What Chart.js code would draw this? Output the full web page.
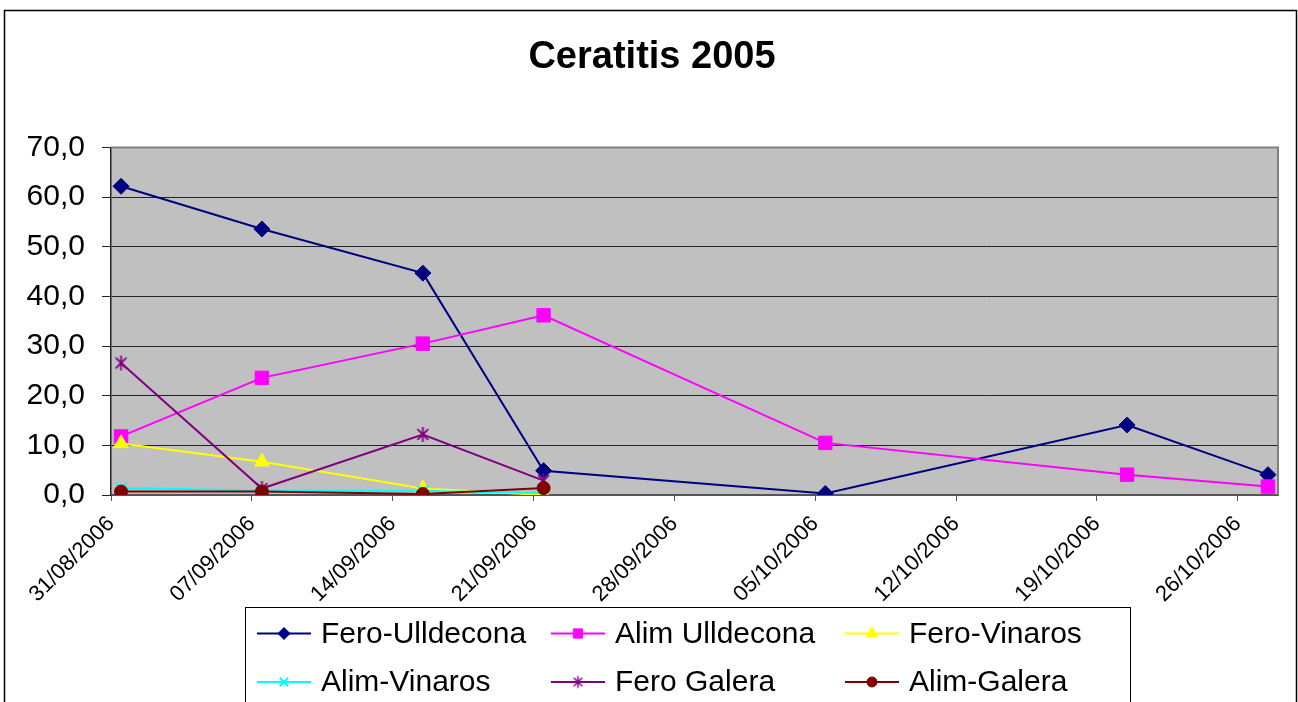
<!DOCTYPE html>
<html>
<head>
<meta charset="utf-8">
<script src="https://cdn.jsdelivr.net/npm/chart.js@4.4.1/dist/chart.umd.min.js"></script>
<style>
  html, body { margin: 0; padding: 0; background: #fff; }
  #wrap { width: 1298px; height: 702px; }
</style>
</head>
<body>
<div id="wrap"><canvas id="myChart" width="1298" height="702"></canvas></div>
<script>
// dates of the counts, and the dates shown on the axis
const startDate = '31/08/2006';
const sampleDates = ['31/08/2006', '07/09/2006', '15/09/2006', '21/09/2006', '05/10/2006', '20/10/2006', '27/10/2006'];
const tickLabels = ['31/08/2006', '07/09/2006', '14/09/2006', '21/09/2006', '28/09/2006', '05/10/2006', '12/10/2006', '19/10/2006', '26/10/2006'];
const axisDays = 58;

const seriesNames = ['Fero-Ulldecona', 'Alim Ulldecona', 'Fero-Vinaros', 'Alim-Vinaros', 'Fero Galera', 'Alim-Galera'];
const feroUlldecona = [62.2, 53.6, 44.7, 4.9, 0.3, 14.1, 4.1];
const alimUlldecona = [11.8, 23.6, 30.5, 36.2, 10.5, 4.1, 1.7];
const feroVinaros = [10.4, 6.7, 1.3, 0.0, null, null, null];
const alimVinaros = [1.4, 0.9, 0.8, 0.4, null, null, null];
const feroGalera = [26.6, 1.3, 12.2, 2.9, null, null, null];
const alimGalera = [0.7, 0.7, 0.2, 1.4, null, null, null];

const FONT = "'Liberation Sans', Arial, sans-serif";

function dayIndex(s) {
  const p = s.split('/');
  const s0 = startDate.split('/');
  return (Date.UTC(+p[2], +p[1] - 1, +p[0]) - Date.UTC(+s0[2], +s0[1] - 1, +s0[0])) / 86400000;
}

function points(values) {
  const out = [];
  values.forEach((v, i) => {
    if (v !== null) out.push({ x: dayIndex(sampleDates[i]) + 0.5, y: v });
  });
  return out;
}

// excel style asterisk marker
function asterisk(r, color, lw) {
  const c = document.createElement('canvas');
  const s = Math.ceil(2 * r + lw * 2);
  c.width = c.height = s;
  const g = c.getContext('2d');
  const m = s / 2, d = r * 0.72;
  g.strokeStyle = color;
  g.lineWidth = lw;
  g.beginPath();
  g.moveTo(m, m - r); g.lineTo(m, m + r);
  g.moveTo(m - d, m - d); g.lineTo(m + d, m + d);
  g.moveTo(m - d, m + d); g.lineTo(m + d, m - d);
  g.stroke();
  return c;
}

const styles = [
  { color: '#000080', point: 'rectRot', r: 8, lr: 6 },
  { color: '#FF00FF', point: 'rect', r: 9.5, lr: 6.5 },
  { color: '#FFFF00', point: 'triangle', r: 8.5, lr: 6.5 },
  { color: '#00FFFF', point: 'crossRot', r: 7.5, lr: 6 },
  { color: '#800080', point: asterisk(7.5, '#800080', 1.8), r: 8, lr: 6, legendPoint: asterisk(6, '#800080', 1.5) },
  { color: '#800000', point: 'circle', r: 6.5, lr: 5 }
];

const allValues = [feroUlldecona, alimUlldecona, feroVinaros, alimVinaros, feroGalera, alimGalera];

const datasets = allValues.map((vals, i) => ({
  label: seriesNames[i],
  data: points(vals),
  borderColor: styles[i].color,
  backgroundColor: styles[i].color,
  borderWidth: 2,
  pointStyle: styles[i].point,
  pointRadius: styles[i].r,
  pointHoverRadius: styles[i].r,
  pointBorderWidth: (i === 3) ? 2 : 1,
  pointBackgroundColor: styles[i].color,
  pointBorderColor: styles[i].color,
  tension: 0,
  order: allValues.length - i
}));

const frame = {
  id: 'frame',
  beforeDraw(chart) {
    const c = chart.ctx, a = chart.chartArea;
    c.save();
    c.fillStyle = '#fff';
    c.fillRect(0, 0, chart.width, chart.height);
    c.strokeStyle = '#000';
    c.lineWidth = 1.5;
    c.strokeRect(4.5, 10.5, 1292, 760);
    c.fillStyle = '#C0C0C0';
    c.fillRect(a.left, a.top, a.right - a.left, a.bottom - a.top);
    c.restore();
  },
  beforeDatasetsDraw(chart) {
    const c = chart.ctx, a = chart.chartArea;
    c.save();
    c.strokeStyle = '#808080';
    c.lineWidth = 2;
    c.beginPath();
    c.moveTo(a.left, a.top);
    c.lineTo(a.right, a.top);
    c.lineTo(a.right, a.bottom);
    c.stroke();
    c.restore();
  },
  afterDraw(chart) {
    // legend box, three columns
    const c = chart.ctx;
    c.save();
    c.fillStyle = '#fff';
    c.fillRect(245.5, 607.5, 885, 200);
    c.strokeStyle = '#000';
    c.lineWidth = 1;
    c.strokeRect(245.5, 607.5, 885, 200);
    chart.data.datasets.forEach((ds, i) => {
      const tx = 321 + (i % 3) * 294;
      const y = 633.5 + Math.floor(i / 3) * 48.5;
      c.strokeStyle = ds.borderColor;
      c.fillStyle = ds.borderColor;
      c.lineWidth = 2;
      c.beginPath();
      c.moveTo(tx - 64, y);
      c.lineTo(tx - 10, y);
      c.stroke();
      c.lineWidth = i === 3 ? 2 : 1;
      Chart.helpers.drawPoint(c, {
        pointStyle: styles[i].legendPoint || styles[i].point,
        radius: styles[i].lr,
        rotation: 0,
        borderWidth: i === 3 ? 2 : 1
      }, tx - 37, y);
      c.fillStyle = '#000';
      c.font = '30px ' + FONT;
      c.textBaseline = 'middle';
      c.textAlign = 'left';
      c.fillText(ds.label, tx, y + 1);
    });
    c.restore();
  }
};

const ctx = document.getElementById('myChart');

new Chart(ctx, {
  type: 'line',
  data: { datasets: datasets },
  options: {
    responsive: false,
    animation: false,
    events: [],
    layout: { padding: { left: 26, right: 20 } },
    plugins: {
      legend: { display: false },
      tooltip: { enabled: false },
      title: {
        display: true,
        text: 'Ceratitis 2005',
        color: '#000',
        font: { family: FONT, size: 38, weight: 'bold' },
        padding: { top: 35, bottom: 67 }
      }
    },
    scales: {
      x: {
        type: 'linear',
        min: 0,
        max: axisDays,
        afterFit(scale) { scale.height = 207; },
        grid: { drawOnChartArea: false, drawTicks: true, tickLength: 6, color: '#555', lineWidth: 1 },
        border: { display: true, color: '#555', width: 2 },
        ticks: {
          stepSize: 7,
          includeBounds: false,
          autoSkip: false,
          maxRotation: 45,
          minRotation: 45,
          padding: 10,
          color: '#000',
          font: { family: FONT, size: 22 },
          callback: (v) => tickLabels[Math.round(v / 7)]
        }
      },
      y: {
        min: 0,
        max: 70,
        afterFit(scale) { scale.width = 85; },
        grid: { color: '#222', lineWidth: 1, tickLength: 9 },
        border: { display: true, color: '#222', width: 1.5 },
        ticks: {
          stepSize: 10,
          padding: 17,
          color: '#000',
          font: { family: FONT, size: 30 },
          callback: (v) => v.toFixed(1).replace('.', ',')
        }
      }
    }
  },
  plugins: [frame]
});
</script>
</body>
</html>
